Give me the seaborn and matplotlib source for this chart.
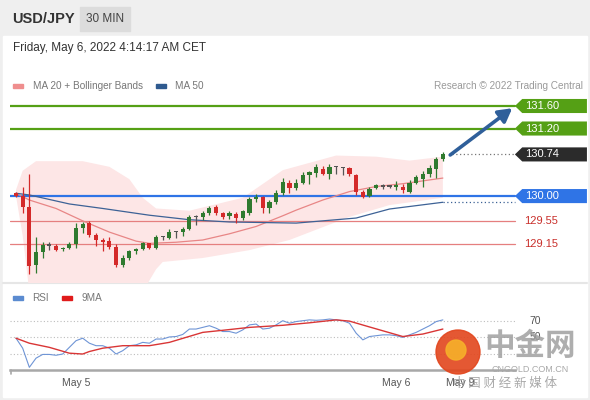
import matplotlib.pyplot as plt
import seaborn as sns
from matplotlib.patches import Rectangle, Polygon, Ellipse

# 30 min candles, oldest first
opens = [130.05, 130.00, 129.81, 128.78, 129.01, 129.13, 129.12, 129.06, 129.08, 129.14,
         129.43, 129.52, 129.31, 129.22, 129.20, 129.10, 128.78, 128.90, 129.02, 129.06,
         129.16, 129.08, 129.27, 129.26, 129.36, 129.37, 129.42, 129.62, 129.62, 129.70,
         129.80, 129.70, 129.64, 129.68, 129.61, 129.70, 129.95, 129.98, 129.79, 129.89,
         130.06, 130.23, 130.15, 130.24, 130.37, 130.41, 130.48, 130.40, 130.52, 130.50,
         130.49, 130.38, 130.08, 130.00, 130.15, 130.17, 130.17, 130.17, 130.17, 130.08,
         130.24, 130.31, 130.39, 130.48, 130.65]
highs = [130.08, 130.16, 130.40, 129.27, 129.18, 129.18, 129.15, 129.10, 129.18, 129.52,
         129.54, 129.55, 129.35, 129.26, 129.27, 129.14, 128.95, 129.05, 129.08, 129.18,
         129.17, 129.30, 129.29, 129.42, 129.38, 129.45, 129.66, 129.66, 129.73, 129.83,
         129.84, 129.72, 129.73, 129.72, 129.76, 129.98, 130.03, 130.00, 129.93, 130.10,
         130.32, 130.28, 130.30, 130.42, 130.45, 130.57, 130.53, 130.57, 130.53, 130.51,
         130.52, 130.40, 130.10, 130.16, 130.21, 130.21, 130.19, 130.26, 130.21, 130.28,
         130.38, 130.44, 130.55, 130.70, 130.79]
lows = [129.99, 129.70, 128.62, 128.63, 128.90, 129.04, 129.03, 129.02, 129.06, 129.08,
        129.34, 129.27, 129.11, 129.03, 129.06, 128.74, 128.74, 128.87, 128.97, 129.04,
        129.06, 129.06, 129.22, 129.24, 129.25, 129.29, 129.40, 129.48, 129.58, 129.66,
        129.66, 129.60, 129.60, 129.53, 129.58, 129.67, 129.90, 129.70, 129.70, 129.86,
        130.02, 130.06, 130.11, 130.21, 130.22, 130.33, 130.37, 130.30, 130.40, 130.38,
        130.35, 130.02, 129.96, 129.98, 130.13, 130.13, 130.14, 130.10, 130.06, 130.06,
        130.21, 130.16, 130.34, 130.32, 130.62]
closes = [130.01, 129.81, 128.76, 129.01, 129.13, 129.12, 129.05, 129.08, 129.14, 129.43,
          129.50, 129.31, 129.22, 129.19, 129.10, 128.78, 128.90, 129.02, 129.06, 129.16,
          129.08, 129.27, 129.28, 129.36, 129.37, 129.42, 129.62, 129.63, 129.70, 129.79,
          129.70, 129.62, 129.70, 129.61, 129.73, 129.94, 129.98, 129.79, 129.89, 130.06,
          130.25, 130.14, 130.24, 130.37, 130.42, 130.52, 130.40, 130.52, 130.51, 130.49,
          130.40, 130.08, 129.99, 130.12, 130.19, 130.18, 130.17, 130.19, 130.10, 130.24,
          130.33, 130.40, 130.50, 130.66, 130.74]

# indicators (candle index -> value)
ma20_idx = [0, 2, 6, 10, 14, 18, 20, 24, 28, 32, 36, 40, 42, 46, 50, 54, 58, 64]
ma20 = [130.05, 129.93, 129.78, 129.56, 129.36, 129.20, 129.16, 129.18, 129.22, 129.33,
        129.46, 129.65, 129.75, 129.93, 130.08, 130.17, 130.22, 130.32]
ma50_idx = [0, 2, 8, 13, 20, 26, 32, 42, 51, 56, 64]
ma50 = [130.05, 130.02, 129.86, 129.78, 129.66, 129.58, 129.54, 129.52, 129.61, 129.77, 129.89]
bb_up_idx = [0, 1, 3, 10, 14, 17, 19, 21, 26, 34, 40, 48, 54, 59, 64]
bb_up = [130.11, 130.45, 130.62, 130.62, 130.52, 130.30, 129.97, 129.78, 129.74, 129.97,
         130.46, 130.72, 130.70, 130.63, 130.70]
bb_lo_idx = [0, 1, 2, 13, 19, 21, 22, 28, 35, 41, 50, 56, 64]
bb_lo = [130.00, 129.30, 128.30, 128.10, 128.30, 128.70, 128.83, 128.90, 129.04, 129.22,
         129.63, 129.84, 129.97]

rsi = [49, 37, 14, 25, 29.5, 29.5, 28.5, 30, 38, 46, 49, 43, 40, 40, 37, 30, 34, 40, 41, 44,
       43, 48, 48, 50.5, 51, 53.5, 60, 60, 62, 64, 61, 57, 57, 55, 59, 65, 66, 60, 61, 65,
       70, 67, 69, 70, 71, 70.5, 71, 72, 71, 70, 67, 55, 47, 51, 52, 53, 53, 52, 50, 53,
       56, 60, 64, 69, 71]
rsi_ma_idx = [0, 2, 5, 8, 10, 11, 13, 16, 20, 23, 28, 31, 35, 40, 44, 48, 50, 53, 58, 61, 64]
rsi_ma = [49, 43, 38, 31, 30, 33, 37, 40, 40, 44, 56, 58.5, 62, 64.5, 67.5, 71, 69.5, 62.5,
          51, 54, 60]

levels = [131.60, 131.20, 130.74, 130.00, 129.55, 129.15]
level_colors = ['#55a015', '#55a015', '#2b2b2b', '#2f74e6', '#e57f7f', '#e57f7f']
rsi_levels = [70, 50, 30]
rsi_labels = ['70', '50']
date_ticks = [9, 57, 66.6]
date_labels = ['May 5', 'May 6', 'May 9']

sns.set_style("white")
plt.rcParams['font.family'] = ['Liberation Sans', 'DejaVu Sans']

W, H = 590, 400
fig = plt.figure(figsize=(5.9, 4.0), dpi=100, facecolor='#efefef')


def fx(x):
    return x / W


def fy(y):
    return 1 - y / H


# white body of the widget + gray header
fig.patches.append(Rectangle((fx(3), fy(397)), fx(584), (397 - 36) / H,
                             transform=fig.transFigure, color='white', zorder=-5))
fig.patches.append(Rectangle((fx(80), fy(31)), fx(50), 24 / H,
                             transform=fig.transFigure, color='#dcdcdc', zorder=-4))
fig.text(fx(12), fy(19), 'USD/JPY', fontsize=10.5, fontweight='bold', color='#333', va='center')
fig.text(fx(105), fy(19), '30 MIN', fontsize=8.5, color='#444', va='center', ha='center')
fig.text(fx(13), fy(48), 'Friday, May 6, 2022 4:14:17 AM CET', fontsize=8.5, color='#333', va='center')

# legend / credit line
fig.patches.append(Rectangle((fx(13), fy(88)), fx(10), 4 / H, transform=fig.transFigure, color='#ef8e8e'))
fig.text(fx(33), fy(86), 'MA 20 + Bollinger Bands', fontsize=7.2, color='#777', va='center')
fig.patches.append(Rectangle((fx(156), fy(88)), fx(10), 4 / H, transform=fig.transFigure, color='#2f5a8f'))
fig.text(fx(175), fy(86), 'MA 50', fontsize=7.2, color='#777', va='center')
fig.text(fx(583), fy(86), 'Research \u00a9 2022 Trading Central', fontsize=7.2, color='#9a9a9a',
         va='center', ha='right')

# separator between panels
fig.lines.append(plt.Line2D([fx(3), fx(587)], [fy(283), fy(283)], transform=fig.transFigure,
                            color='#e6e6e6', lw=1.5, zorder=-3))

# ---------------- price panel ----------------
x0, x1 = -0.9, 85.76
ax = fig.add_axes([fx(10), fy(283), fx(578), (283 - 64) / H])
ax.set_zorder(2)
ax.set_xlim(x0, x1)
ax.set_ylim(128.456, 132.346)
ax.set_facecolor('none')
ax.axis('off')

xe = 74.8  # where level lines end
# bollinger band
band_x = bb_up_idx + bb_lo_idx[::-1]
band_y = bb_up + bb_lo[::-1]
ax.fill(band_x, band_y, color='#fde6e6', lw=0, zorder=1)

for lv, c in zip(levels, level_colors):
    if lv == 130.74:
        ax.plot([65.3, xe], [lv, lv], ls=(0, (1, 2)), color='#777', lw=0.9, zorder=2)
    elif c == '#e57f7f':
        ax.plot([x0, xe], [lv, lv], color=c, lw=0.9, zorder=2)
    else:
        ax.plot([x0, xe], [lv, lv], color=c, lw=1.6, zorder=2)

sns.lineplot(x=ma20_idx, y=ma20, ax=ax, color='#e88686', lw=0.9, zorder=3)
sns.lineplot(x=ma50_idx, y=ma50, ax=ax, color='#3d6296', lw=0.9, zorder=3)
ax.plot([ma50_idx[-1], xe], [ma50[-1], ma50[-1]], ls=(0, (1, 2)), color='#3d6296', lw=0.9, zorder=3)

# candles
idx = list(range(len(opens)))
for i in idx:
    o, h, l, c = opens[i], highs[i], lows[i], closes[i]
    if abs(c - o) < 0.015:
        col = '#555555'
    elif c > o:
        col = '#2f7a2f'
    else:
        col = '#d42a2a'
    ax.vlines(i, l, h, color=col, lw=0.9, zorder=4)
    ax.bar(i, max(abs(c - o), 0.02), bottom=min(o, c), width=0.62, color=col, lw=0, zorder=5)

# target arrow
ax.annotate('', xy=(74.4, 131.56), xytext=(65.1, 130.73),
            arrowprops=dict(arrowstyle='-|>,head_length=0.8,head_width=0.45', color='#2f5f9a',
                            lw=2.6, shrinkA=0, shrinkB=0), zorder=6)

# right-hand price tags
hh = 0.125
for lv, c in zip(levels, level_colors):
    if c == '#e57f7f':
        ax.text(76.2, lv, f'{lv:.2f}', color='#c9302c', fontsize=8, va='center', ha='left')
        continue
    ax.add_patch(Polygon([(xe, lv), (75.9, lv + hh), (85.6, lv + hh), (85.6, lv - hh), (75.9, lv - hh)],
                         closed=True, color=c, lw=0, zorder=6))
    ax.text(76.4, lv, f'{lv:.2f}', color='white', fontsize=8, va='center', ha='left', zorder=7)

# ---------------- RSI panel ----------------
ax2 = fig.add_axes([fx(10), fy(370), fx(578), (370 - 283) / H])
ax2.set_zorder(2)
ax2.set_xlim(x0, x1)
ax2.set_ylim(10.8, 115.3)
ax2.set_facecolor('none')
for s in ['top', 'right', 'left']:
    ax2.spines[s].set_visible(False)
ax2.spines['bottom'].set_color('#a8a8a8')
ax2.spines['bottom'].set_linewidth(1.8)
ax2.spines['bottom'].set_bounds(x0, xe)
ax2.set_yticks([])
ax2.set_xticks(date_ticks)
ax2.set_xticklabels(date_labels, fontsize=7.5, color='#555')
ax2.tick_params(axis='x', length=0, pad=6)
ax2.plot([x0 + 0.1, x0 + 0.1], [10.8, 6.5], color='#a8a8a8', lw=1.2, clip_on=False)

for r in rsi_levels:
    ax2.plot([x0, xe], [r, r], ls=(0, (1, 2)), color='#bdbdbd', lw=0.8)
for r, t in zip(rsi_levels, rsi_labels):
    ax2.text(77.0, r, t, fontsize=7.5, color='#555', va='center')

sns.lineplot(x=idx, y=rsi, ax=ax2, color='#6f95d6', lw=0.8)
sns.lineplot(x=rsi_ma_idx, y=rsi_ma, ax=ax2, color='#d93636', lw=1.0)

fig.patches.append(Rectangle((fx(13), fy(300)), fx(10), 4 / H, transform=fig.transFigure, color='#5b8bd0'))
fig.text(fx(32), fy(298), 'RSI', fontsize=7.2, color='#777', va='center')
fig.patches.append(Rectangle((fx(62), fy(300)), fx(10), 4 / H, transform=fig.transFigure, color='#e01b1b'))
fig.text(fx(82), fy(298), '9MA', fontsize=7.2, color='#777', va='center')

# site watermark
fig.patches.append(Ellipse((fx(458), fy(352)), 44 / W, 44 / H, transform=fig.transFigure,
                           color='#e2461d', alpha=0.9, zorder=10))
fig.patches.append(Ellipse((fx(456), fy(350)), 20 / W, 20 / H, transform=fig.transFigure,
                           color='#f6b02a', alpha=0.9, zorder=11))
fig.text(fx(530), fy(346), '中金网', fontsize=22, color='#a0a0a0', alpha=0.85, ha='center', va='center',
         family=['Noto Sans CJK SC', 'DejaVu Sans'], fontweight='bold', zorder=10)
fig.text(fx(530), fy(370), 'CNGOLD.COM.CN', fontsize=6.5, color='#a8a8a8', ha='center', va='center', zorder=10)
fig.text(fx(505), fy(383), '中 国 财 经 新 媒 体', fontsize=9, color='#9a9a9a', alpha=0.85, ha='center',
         va='center', family=['Noto Sans CJK SC', 'DejaVu Sans'], zorder=10)

fig.savefig('out.png', dpi=100, facecolor=fig.get_facecolor())
